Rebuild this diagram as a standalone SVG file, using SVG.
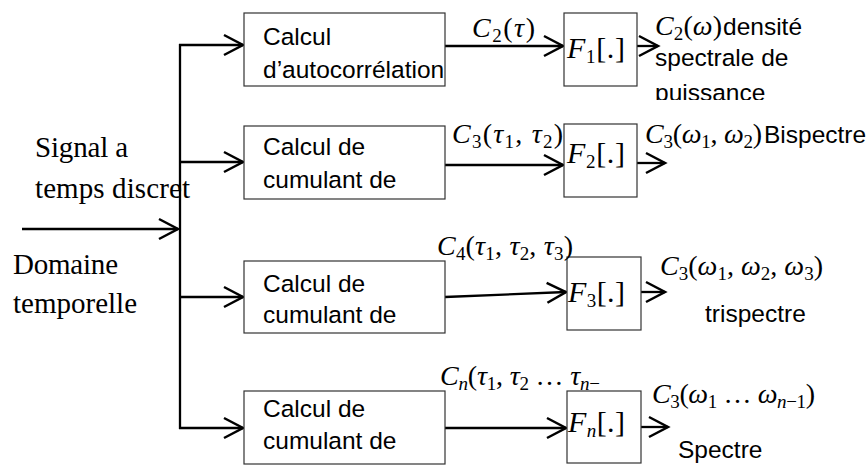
<svg xmlns="http://www.w3.org/2000/svg" width="867" height="465" viewBox="0 0 867 465">
  <style>
    .box { fill: #fff; stroke: #333; stroke-width: 1.2; }
    .wire { fill: none; stroke: #000; stroke-width: 2.3; }
    .lbl { font-family: "Liberation Serif", "Times New Roman", serif; font-size: 29px; fill: #000; }
    .sans { font-family: "Liberation Sans", Arial, sans-serif; font-size: 24.5px; fill: #000; }
    .m { font-family: "Liberation Serif", "Times New Roman", serif; font-size: 28px; font-style: italic; fill: #000; }
    .f { font-size: 30px; }
    .r { font-style: normal; }
    .sub { font-size: 19px; font-style: normal; }
    .isub { font-size: 19px; font-style: italic; }
  </style>
  <defs>
    <marker id="arr" viewBox="-22 -13 25 26" refX="0" refY="0" markerWidth="25" markerHeight="26" markerUnits="userSpaceOnUse" orient="auto">
      <path d="M-19,-10 L0,0 L-19,10" fill="none" stroke="#000" stroke-width="2.5"/>
    </marker>
    <clipPath id="clipTop">
      <rect x="640" y="0" width="227" height="100"/>
    </clipPath>
  </defs>

  <!-- input labels -->
  <g id="input-labels">
    <text class="lbl" x="35" y="157" textLength="93" lengthAdjust="spacing">Signal a</text>
    <text class="lbl" x="35" y="198" textLength="155" lengthAdjust="spacing">temps discret</text>
    <text class="lbl" x="13" y="274" textLength="105" lengthAdjust="spacing">Domaine</text>
    <text class="lbl" x="13" y="313" textLength="124" lengthAdjust="spacing">temporelle</text>
  </g>

  <!-- connectors -->
  <g id="connectors">
    <line class="wire" x1="22" y1="229" x2="178" y2="229" marker-end="url(#arr)"/>
    <line class="wire" x1="180" y1="44" x2="180" y2="429"/>
    <line class="wire" x1="179" y1="45" x2="243" y2="45" marker-end="url(#arr)"/>
    <line class="wire" x1="179" y1="162" x2="243" y2="162" marker-end="url(#arr)"/>
    <line class="wire" x1="179" y1="297" x2="243" y2="297" marker-end="url(#arr)"/>
    <line class="wire" x1="179" y1="428" x2="243" y2="428" marker-end="url(#arr)"/>

    <line class="wire" x1="445" y1="46" x2="563" y2="46" marker-end="url(#arr)"/>
    <line class="wire" x1="445" y1="165" x2="563" y2="165" marker-end="url(#arr)"/>
    <line class="wire" x1="445" y1="297" x2="566" y2="292" marker-end="url(#arr)"/>
    <line class="wire" x1="445" y1="428" x2="566" y2="428" marker-end="url(#arr)"/>

    <line class="wire" x1="637" y1="46" x2="658" y2="46" marker-end="url(#arr)"/>
    <line class="wire" x1="635" y1="163" x2="665" y2="163" marker-end="url(#arr)"/>
    <line class="wire" x1="641" y1="292" x2="665" y2="292" marker-end="url(#arr)"/>
    <line class="wire" x1="641" y1="427" x2="668" y2="427" marker-end="url(#arr)"/>
  </g>

  <!-- cumulant / autocorrelation blocks -->
  <g id="calc-autocorr">
    <rect class="box" x="244" y="13" width="201" height="73"/>
    <text class="sans" x="263" y="45">Calcul</text>
    <text class="sans" x="263" y="78">d’autocorrélation</text>
  </g>
  <g id="calc-cum3">
    <rect class="box" x="244" y="126" width="201" height="73"/>
    <text class="sans" x="263" y="155">Calcul de</text>
    <text class="sans" x="263" y="188">cumulant de</text>
  </g>
  <g id="calc-cum4">
    <rect class="box" x="244" y="261" width="201" height="72"/>
    <text class="sans" x="263" y="292">Calcul de</text>
    <text class="sans" x="263" y="323">cumulant de</text>
  </g>
  <g id="calc-cumn">
    <rect class="box" x="244" y="391" width="201" height="73"/>
    <text class="sans" x="263" y="417">Calcul de</text>
    <text class="sans" x="263" y="449">cumulant de</text>
  </g>

  <!-- Fourier transform blocks -->
  <g id="fourier-1">
    <rect class="box" x="564" y="13" width="73" height="73"/>
    <text class="m f" x="567" y="58" textLength="58" lengthAdjust="spacing">F<tspan class="sub" dy="5">1</tspan><tspan class="r" dy="-5">[.]</tspan></text>
  </g>
  <g id="fourier-2">
    <rect class="box" x="564" y="124" width="73" height="73"/>
    <text class="m f" x="567" y="163" textLength="58" lengthAdjust="spacing">F<tspan class="sub" dy="5">2</tspan><tspan class="r" dy="-5">[.]</tspan></text>
  </g>
  <g id="fourier-3">
    <rect class="box" x="567" y="257" width="74" height="73"/>
    <text class="m f" x="568" y="302" textLength="57" lengthAdjust="spacing">F<tspan class="sub" dy="5">3</tspan><tspan class="r" dy="-5">[.]</tspan></text>
  </g>
  <g id="fourier-n">
    <rect class="box" x="567" y="391" width="74" height="72"/>
    <text class="m f" x="568" y="432" textLength="57" lengthAdjust="spacing">F<tspan class="isub" dy="5">n</tspan><tspan class="r" dy="-5">[.]</tspan></text>
  </g>

  <!-- cumulant labels on the links -->
  <g id="link-labels">
    <text class="m" x="472" y="37" textLength="63" lengthAdjust="spacing">C<tspan class="sub" dy="5">2</tspan><tspan class="r" dy="-5">(</tspan>τ<tspan class="r">)</tspan></text>
    <text class="m" x="452" y="143" textLength="111" lengthAdjust="spacing">C<tspan class="sub" dy="5">3</tspan><tspan class="r" dy="-5">(</tspan>τ<tspan class="sub" dy="5">1</tspan><tspan class="r" dy="-5">, </tspan>τ<tspan class="sub" dy="5">2</tspan><tspan class="r" dy="-5">)</tspan></text>
    <text class="m" x="437" y="255" textLength="136" lengthAdjust="spacing">C<tspan class="sub" dy="5">4</tspan><tspan class="r" dy="-5">(</tspan>τ<tspan class="sub" dy="5">1</tspan><tspan class="r" dy="-5">, </tspan>τ<tspan class="sub" dy="5">2</tspan><tspan class="r" dy="-5">, </tspan>τ<tspan class="sub" dy="5">3</tspan><tspan class="r" dy="-5">)</tspan></text>
    <text class="m" x="440" y="385" textLength="160" lengthAdjust="spacing">C<tspan class="isub" dy="5">n</tspan><tspan class="r" dy="-5">(</tspan>τ<tspan class="sub" dy="5">1</tspan><tspan class="r" dy="-5">, </tspan>τ<tspan class="sub" dy="5">2</tspan><tspan class="r" dy="-5"> … </tspan>τ<tspan class="isub" dy="5">n</tspan><tspan class="sub">−</tspan></text>
  </g>

  <!-- spectrum outputs -->
  <g id="out-dsp">
    <g clip-path="url(#clipTop)">
      <text class="m" x="655" y="35" textLength="67" lengthAdjust="spacing">C<tspan class="sub" dy="5">2</tspan><tspan class="r" dy="-5">(</tspan>ω<tspan class="r">)</tspan></text>
      <text class="sans" x="723" y="35">densité</text>
      <text class="sans" x="655" y="66">spectrale de</text>
      <text class="sans" x="655" y="101">puissance</text>
    </g>
  </g>
  <g id="out-bispectre">
    <text class="m" x="645" y="143" textLength="117" lengthAdjust="spacing">C<tspan class="sub" dy="5">3</tspan><tspan class="r" dy="-5">(</tspan>ω<tspan class="sub" dy="5">1</tspan><tspan class="r" dy="-5">, </tspan>ω<tspan class="sub" dy="5">2</tspan><tspan class="r" dy="-5">)</tspan></text>
    <text class="sans" x="764" y="143">Bispectre</text>
  </g>
  <g id="out-trispectre">
    <text class="m" x="660" y="275" textLength="163" lengthAdjust="spacing">C<tspan class="sub" dy="5">3</tspan><tspan class="r" dy="-5">(</tspan>ω<tspan class="sub" dy="5">1</tspan><tspan class="r" dy="-5">, </tspan>ω<tspan class="sub" dy="5">2</tspan><tspan class="r" dy="-5">, </tspan>ω<tspan class="sub" dy="5">3</tspan><tspan class="r" dy="-5">)</tspan></text>
    <text class="sans" x="705" y="322">trispectre</text>
  </g>
  <g id="out-spectre">
    <text class="m" x="652" y="403" textLength="163" lengthAdjust="spacing">C<tspan class="sub" dy="5">3</tspan><tspan class="r" dy="-5">(</tspan>ω<tspan class="sub" dy="5">1</tspan><tspan class="r" dy="-5"> … </tspan>ω<tspan class="isub" dy="5">n</tspan><tspan class="sub">−1</tspan><tspan class="r" dy="-5">)</tspan></text>
    <text class="sans" x="678" y="458">Spectre</text>
  </g>
</svg>
